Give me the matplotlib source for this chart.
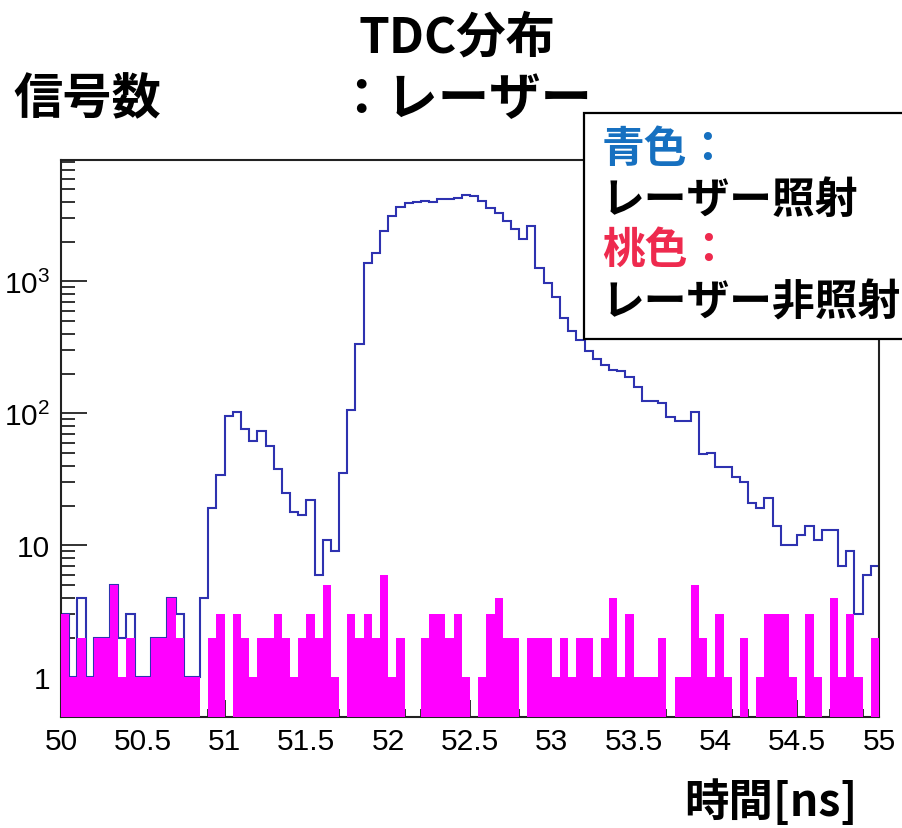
import matplotlib
matplotlib.use('Agg')
import matplotlib.pyplot as plt
import numpy as np
from matplotlib.patches import Rectangle
from matplotlib.ticker import FixedLocator, LogLocator, MultipleLocator, FuncFormatter, NullFormatter

plt.rcParams['font.family'] = ['Liberation Sans', 'DejaVu Sans']
plt.rcParams['mathtext.fontset'] = 'custom'
plt.rcParams['mathtext.rm'] = 'Liberation Sans'

# ---------------- data ----------------
x_range = [50.0, 55.0]
n_bins = 100

# laser ON (blue outline)
laser_on = [3, 1, 4, 1, 2, 2, 5, 2, 3, 1, 1, 2, 2, 4, 3, 1, 1, 4, 19, 34,
            95, 103, 76, 62, 74, 57, 38, 25, 18, 17, 22, 6, 11, 9, 35, 106, 335, 1370, 1630, 2400,
            3140, 3680, 3890, 3990, 4080, 3990, 4170, 4170, 4300, 4540, 4430, 4080, 3570, 3280, 2860, 2490, 2090, 2640, 1260, 970,
            760, 530, 418, 359, 295, 258, 232, 214, 210, 190, 159, 123, 123, 119, 93, 88, 88, 102, 49, 50,
            39, 39, 33, 30, 21, 19, 23, 14, 10, 10, 12, 14, 11, 13, 13, 7, 9, 3, 6, 7]

# laser OFF (magenta filled)
laser_off = [3, 1, 2, 1, 2, 2, 5, 1, 2, 1, 1, 2, 2, 4, 2, 1, 1, 0, 2, 3,
             0, 3, 2, 1, 2, 2, 3, 2, 1, 2, 3, 2, 5, 1, 0, 3, 2, 3, 2, 6,
             1, 2, 0, 0, 2, 3, 3, 2, 3, 1, 0, 1, 3, 4, 2, 2, 0, 2, 2, 2,
             1, 2, 1, 2, 2, 1, 2, 4, 1, 3, 1, 1, 1, 2, 0, 1, 1, 5, 2, 1,
             3, 1, 0, 2, 0, 1, 3, 3, 3, 1, 0, 3, 1, 0, 4, 1, 3, 1, 0, 2]

x_ticks = [50, 50.5, 51, 51.5, 52, 52.5, 53, 53.5, 54, 54.5, 55]
y_ticks = [1, 10, 100, 1000]
y_tick_labels = ['1', '10', r'$\mathregular{10^{2}}$', r'$\mathregular{10^{3}}$']

title_lines = ['TDC分布', '：レーザー']
y_label = '信号数'
x_label = '時間[ns]'
legend_lines = [('青色：', '#1670c0'), ('レーザー照射', 'black'),
                ('桃色：', '#ee2a4e'), ('レーザー非照射', 'black')]

# ---------------- figure ----------------
W, H = 902, 829
fig = plt.figure(figsize=(W / 100, H / 100), dpi=100)
fig.patch.set_facecolor('white')
ax = fig.add_axes([61 / W, 1 - 718 / H, (879 - 61) / W, (718 - 161) / H])
ax.set_axisbelow(True)

edges = np.linspace(x_range[0], x_range[1], n_bins + 1)
on = np.asarray(laser_on, float)
off = np.asarray(laser_off, float)
floor = 1e-3

ax.stairs(on, edges, baseline=None, color='#2e32b0', lw=1.5, zorder=2)
ax.stairs(np.where(off > 0, off, floor), edges, baseline=floor, fill=True,
          color='#ff00ff', lw=0.6, zorder=3)

ax.set_yscale('log')
ax.set_xlim(*x_range)
ax.set_ylim(0.5, 8300)

ax.xaxis.set_major_locator(FixedLocator(x_ticks))
ax.xaxis.set_minor_locator(MultipleLocator(0.1))
ax.xaxis.set_major_formatter(FuncFormatter(lambda v, p: '%g' % v))
ax.yaxis.set_major_locator(FixedLocator(y_ticks))
ax.yaxis.set_major_formatter(FuncFormatter(
    lambda v, p: y_tick_labels[y_ticks.index(int(round(v)))] if int(round(v)) in y_ticks else ''))
ax.yaxis.set_minor_locator(LogLocator(base=10, subs=np.arange(2, 10), numticks=30))
ax.yaxis.set_minor_formatter(NullFormatter())

ax.tick_params(axis='both', which='both', direction='in', top=False, right=False,
               colors='#222222', labelcolor='black')
ax.tick_params(axis='y', which='major', length=19, width=1.3, pad=8, labelsize=21.5)
ax.tick_params(axis='y', which='minor', length=10, width=1.3)
ax.tick_params(axis='x', which='major', length=12, width=1.3, pad=7, labelsize=21.5)
ax.tick_params(axis='x', which='minor', length=6, width=1.3)
for s in ax.spines.values():
    s.set_linewidth(1.5)
    s.set_color('#222222')

cjk = ['Noto Sans CJK JP', 'DejaVu Sans']

fig.text(457 / W, 1 - 38 / H, title_lines[0], family=cjk, weight='bold', fontsize=35.5,
         ha='center', va='center')
fig.text(464 / W, 1 - 100 / H, title_lines[1], family=cjk, weight='bold', fontsize=37,
         ha='center', va='center')
fig.text(87 / W, 1 - 100 / H, y_label, family=cjk, weight='bold', fontsize=35.5,
         ha='center', va='center')
fig.text(771 / W, 1 - 803 / H, x_label, family=cjk, weight='bold', fontsize=32,
         ha='center', va='center')

# legend box (extends past right edge)
rect = Rectangle((584 / W, 1 - 340 / H), (915 - 584) / W, (340 - 114) / H,
                 transform=fig.transFigure, facecolor='white', edgecolor='black',
                 lw=1.6, clip_on=False, zorder=10)
fig.add_artist(rect)
ys = [149, 200, 250, 302]
for (txt, col), yy in zip(legend_lines, ys):
    fig.text(602 / W, 1 - yy / H, txt, family=cjk, weight='bold', fontsize=30.8,
             color=col, ha='left', va='center', zorder=11)

fig.savefig('out.png', dpi=100)
